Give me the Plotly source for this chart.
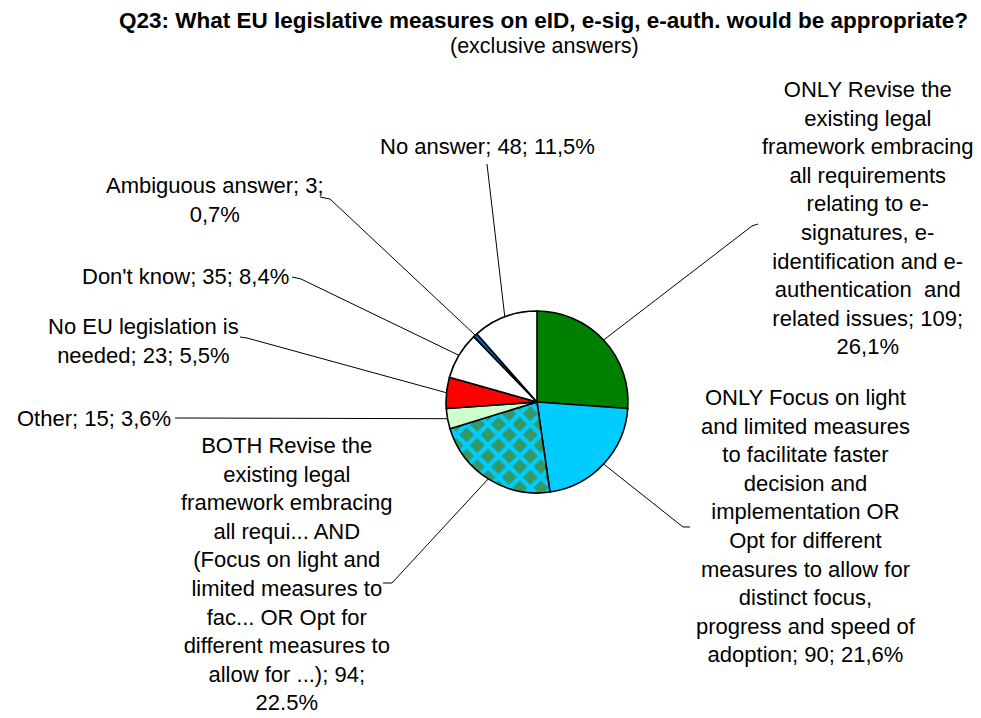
import math
import plotly.graph_objects as go

# ---- data ----
names = [
    "ONLY Revise the\nexisting legal\nframework embracing\nall requirements\nrelating to e-\nsignatures, e-\nidentification and e-\nauthentication  and\nrelated issues",
    "ONLY Focus on light\nand limited measures\nto facilitate faster\ndecision and\nimplementation OR\nOpt for different\nmeasures to allow for\ndistinct focus,\nprogress and speed of\nadoption",
    "BOTH Revise the\nexisting legal\nframework embracing\nall requi... AND\n(Focus on light and\nlimited measures to\nfac... OR Opt for\ndifferent measures to\nallow for ...)",
    "Other",
    "No EU legislation is\nneeded",
    "Don't know",
    "Ambiguous answer",
    "No answer",
]
values = [109, 90, 94, 15, 23, 35, 3, 48]
pct_text = ["26,1%", "21,6%", "22.5%", "3,6%", "5,5%", "8,4%", "0,7%", "11,5%"]
colors = ["#008000", "#00CCFF", "#339966", "#CCFFCC", "#FF0000", "#FFFFFF", "#0066CC", "#FFFFFF"]
pct_on_new_line = [True, False, True, False, False, False, True, False]

# ---- layout geometry (pixels) ----
W, H = 981, 718
CX, CY, R = 537, 402, 91
FONT = "Liberation Sans, Arial, sans-serif"


def px(x):
    return x / W


def py(y):
    return 1 - y / H


label_pos = [  # (x, y, xanchor)
    (868, 218, "center"),
    (806, 526, "center"),
    (287, 574, "center"),
    (173, 418, "right"),
    (241, 341, "right"),
    (291, 277, "right"),
    (326, 200, "right"),
    (487, 146, "center"),
]
leader_start = [
    [(758, 224), (752, 226)],
    [(690, 527), (683, 527)],
    [(383, 583), (392, 583)],
    [(175, 418)],
    [(240, 337), (247, 338)],
    [(292, 277), (301, 279)],
    [(320, 197), (330, 199)],
    [(487, 164)],
]

flat_names = [n.replace("\n", " ") for n in names]

fig = go.Figure(
    go.Pie(
        values=values,
        labels=flat_names,
        sort=False,
        direction="clockwise",
        rotation=0,
        textinfo="none",
        hoverinfo="label+value+percent",
        showlegend=False,
        marker=dict(
            colors=colors,
            line=dict(color="black", width=1.6),
            pattern=dict(
                shape=["", "", "x", "", "", "", "", ""],
                fgcolor="#00CCFF",
                bgcolor="#339966",
                size=15,
                solidity=0.5,
            ),
        ),
        domain=dict(x=[px(CX - R), px(CX + R)], y=[py(CY + R), py(CY - R)]),
    )
)

# edge points of slices (mid angle), from data
total = sum(values)
cum = 0
edges = []
for v in values:
    mid = (cum + v / 2) / total * 2 * math.pi
    edges.append((CX + R * math.sin(mid), CY - R * math.cos(mid)))
    cum += v

shapes = []
annotations = []
for i, name in enumerate(names):
    lines = name.split("\n")
    if pct_on_new_line[i]:
        lines[-1] = f"{lines[-1]}; {values[i]};"
        lines.append(pct_text[i])
    else:
        lines[-1] = f"{lines[-1]}; {values[i]}; {pct_text[i]}"
    x, y, xa = label_pos[i]
    annotations.append(dict(
        text="<br>".join(lines), x=px(x), y=py(y), xref="paper", yref="paper",
        xanchor=xa, yanchor="middle", align="center", showarrow=False,
        font=dict(family=FONT, size=22, color="black"),
    ))
    pts = leader_start[i] + [edges[i]]
    path = "M " + " L ".join(f"{px(a):.5f},{py(b):.5f}" for a, b in pts)
    shapes.append(dict(type="path", path=path, xref="paper", yref="paper",
                       line=dict(color="black", width=1)))

annotations.append(dict(
    text="<b>Q23: What EU legislative measures on eID, e-sig, e-auth. would be appropriate?</b>",
    x=px(543), y=py(20), xref="paper", yref="paper", xanchor="center", yanchor="middle",
    showarrow=False, font=dict(family=FONT, size=22.5, color="black"),
))
annotations.append(dict(
    text="(exclusive answers)",
    x=px(544), y=py(46), xref="paper", yref="paper", xanchor="center", yanchor="middle",
    showarrow=False, font=dict(family=FONT, size=21.5, color="black"),
))

fig.update_layout(
    width=W, height=H,
    margin=dict(l=0, r=0, t=0, b=0),
    paper_bgcolor="white", plot_bgcolor="white",
    annotations=annotations, shapes=shapes,
)

fig.write_html("out.html")
